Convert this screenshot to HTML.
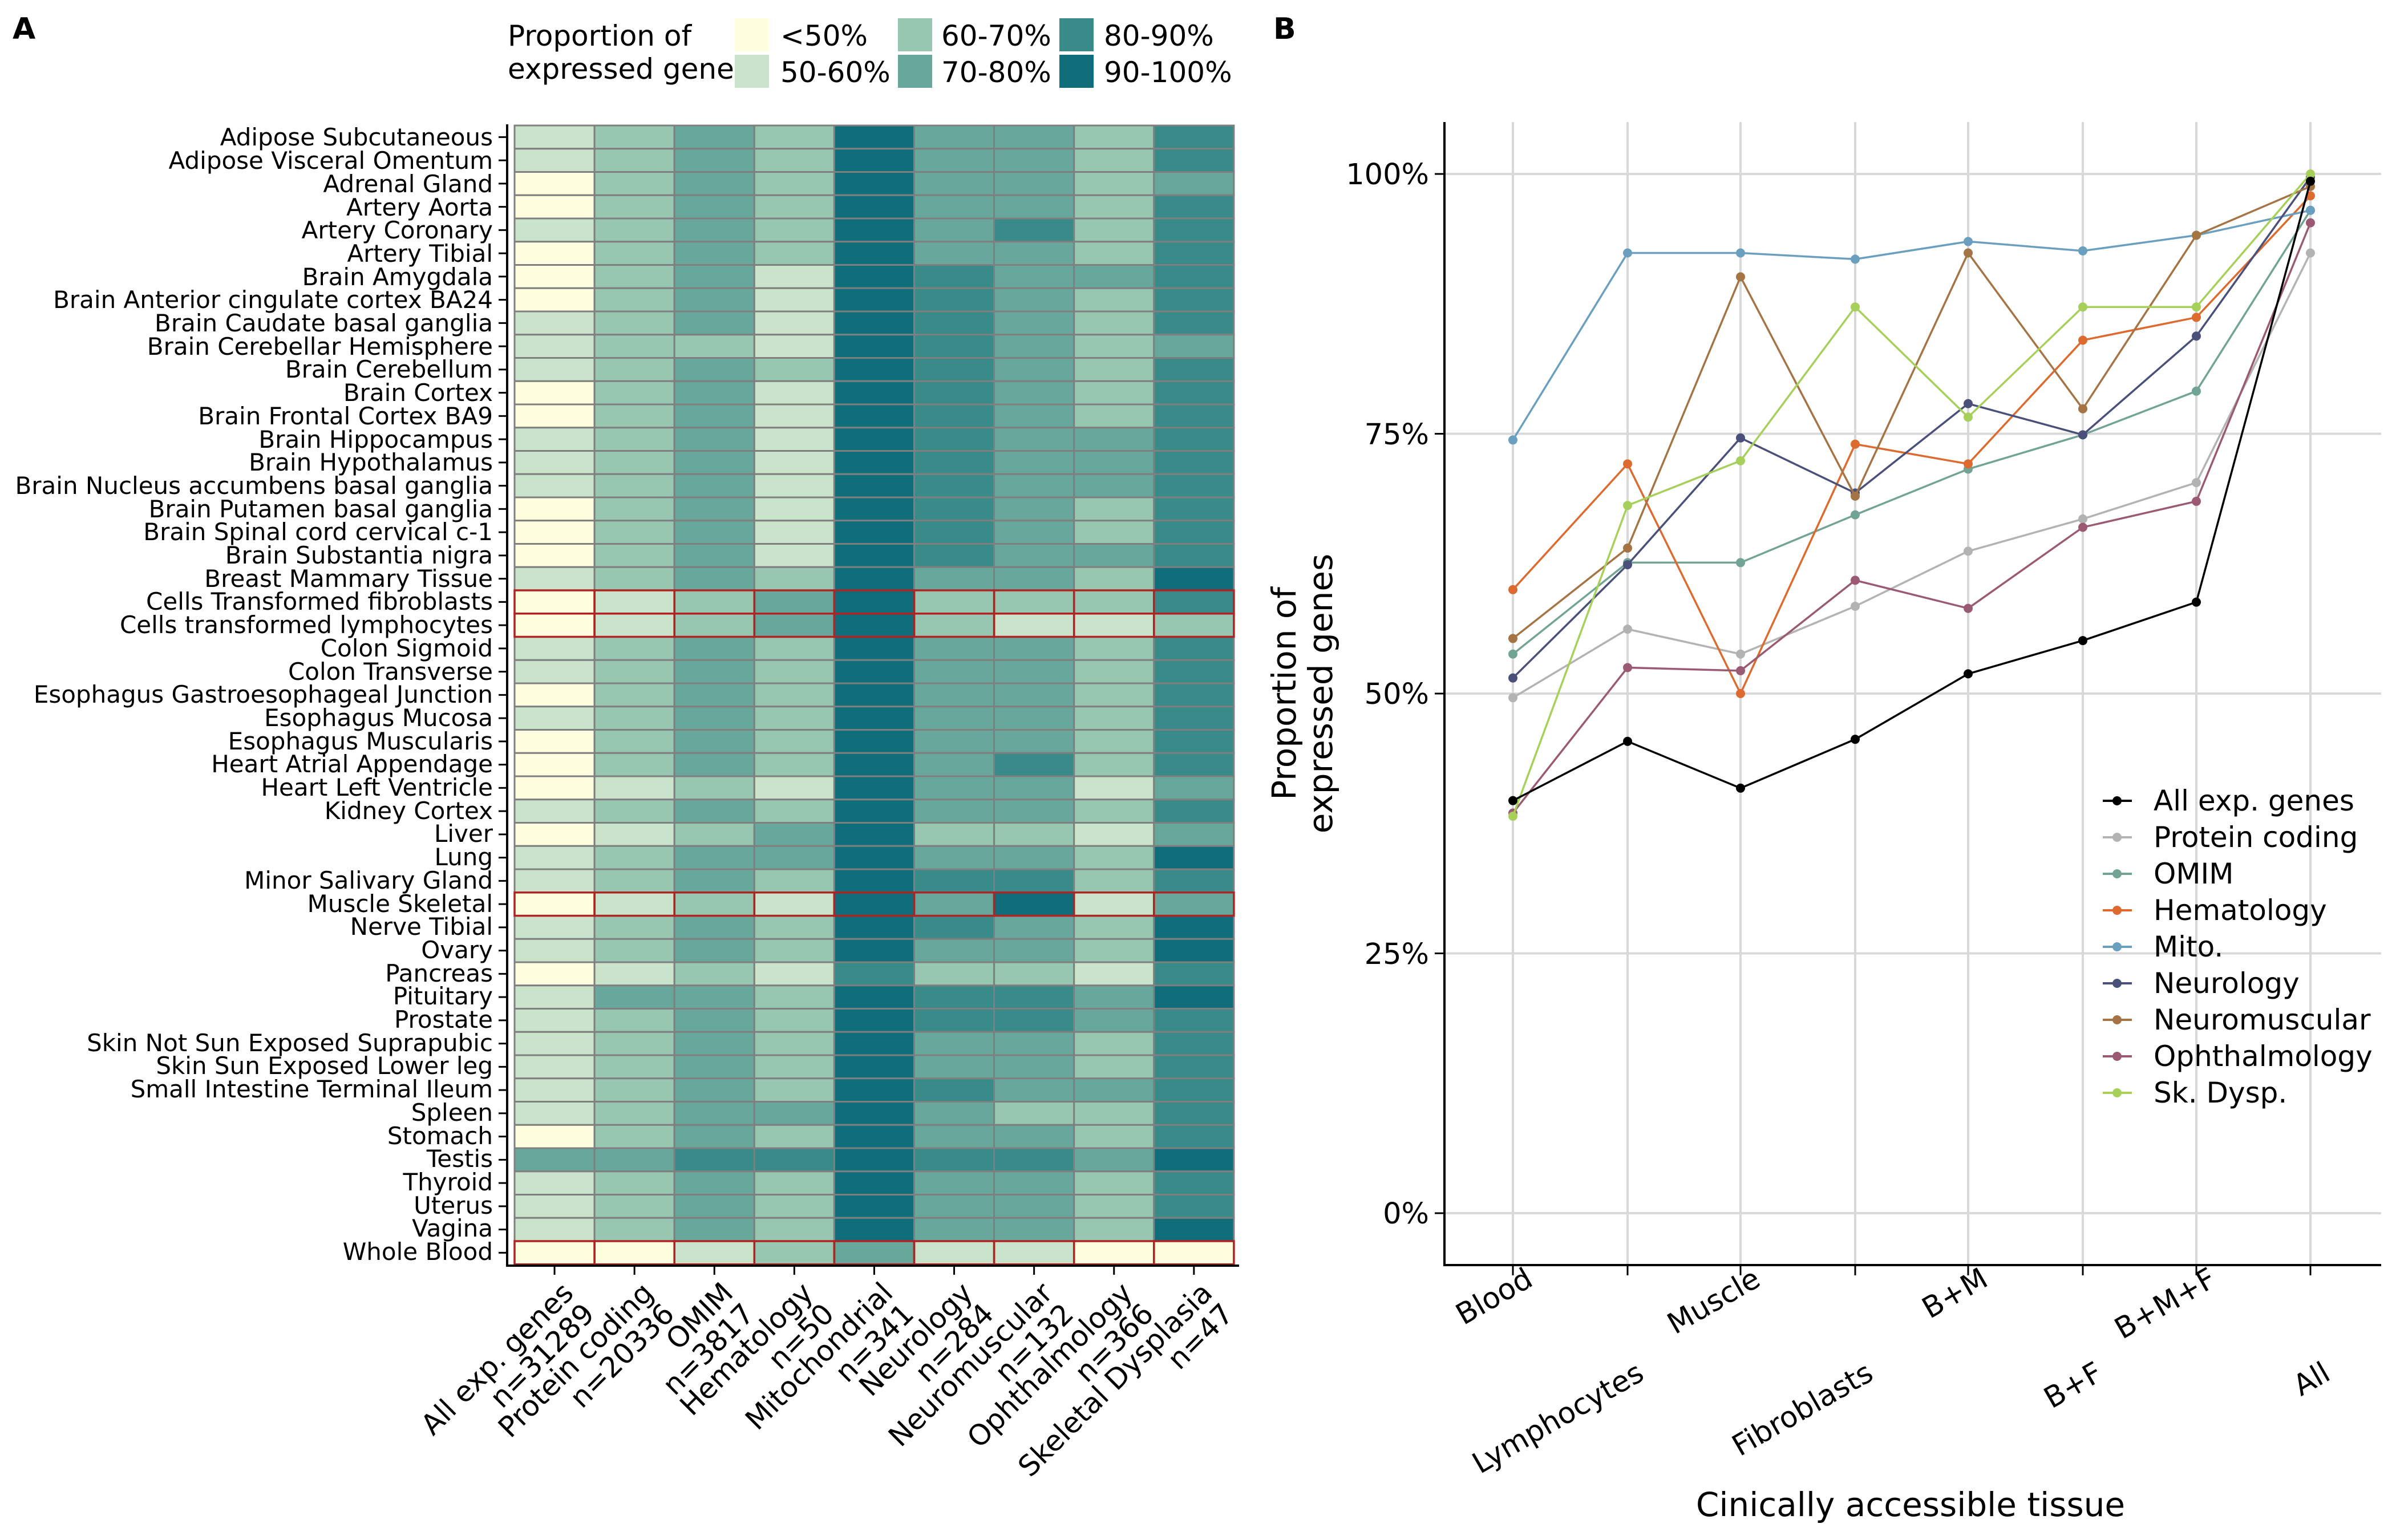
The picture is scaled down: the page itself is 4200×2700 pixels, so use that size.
<!DOCTYPE html>
<html><head><meta charset="utf-8"><style>
html,body{margin:0;padding:0;background:#fff}
svg{display:block}
text{font-family:"DejaVu Sans","Liberation Sans",sans-serif;fill:#000}
</style></head><body>
<svg id="s" xmlns="http://www.w3.org/2000/svg" width="4200" height="2700" viewBox="0 0 4200 2700">
<rect width="4200" height="2700" fill="#fff"/>
<text x="22" y="68" font-size="52" font-weight="bold">A</text>
<text x="2232" y="68" font-size="52" font-weight="bold">B</text>
<!-- legend A -->
<text x="890" y="80" font-size="50">Proportion of</text>
<text x="890" y="138" font-size="50">expressed gene</text>
<rect x="1288" y="32" width="60" height="58" fill="#FFFFE0"/>
<rect x="1288" y="96" width="60" height="58" fill="#C9E4CA"/>
<rect x="1574" y="32" width="60" height="58" fill="#97C7B1"/>
<rect x="1574" y="96" width="60" height="58" fill="#68A89C"/>
<rect x="1857" y="32" width="60" height="58" fill="#388B89"/>
<rect x="1857" y="96" width="60" height="58" fill="#0F6E7A"/>
<text x="1368" y="80" font-size="50">&lt;50%</text>
<text x="1368" y="144" font-size="50">50-60%</text>
<text x="1650" y="80" font-size="50">60-70%</text>
<text x="1650" y="144" font-size="50">70-80%</text>
<text x="1935" y="80" font-size="50">80-90%</text>
<text x="1935" y="144" font-size="50">90-100%</text>
<g id="heat"></g>
<line x1="889" y1="218" x2="889" y2="2221" stroke="#000" stroke-width="4"/>
<line x1="887" y1="2219" x2="2172" y2="2219" stroke="#000" stroke-width="4"/>
<g id="ticksA"></g>
<g font-size="42" text-anchor="end">
<text x="864" y="255">Adipose Subcutaneous</text>
<text x="864" y="296">Adipose Visceral Omentum</text>
<text x="864" y="337">Adrenal Gland</text>
<text x="864" y="378">Artery Aorta</text>
<text x="864" y="418">Artery Coronary</text>
<text x="864" y="459">Artery Tibial</text>
<text x="864" y="500">Brain Amygdala</text>
<text x="864" y="540">Brain Anterior cingulate cortex BA24</text>
<text x="864" y="581">Brain Caudate basal ganglia</text>
<text x="864" y="622">Brain Cerebellar Hemisphere</text>
<text x="864" y="662">Brain Cerebellum</text>
<text x="864" y="703">Brain Cortex</text>
<text x="864" y="744">Brain Frontal Cortex BA9</text>
<text x="864" y="785">Brain Hippocampus</text>
<text x="864" y="825">Brain Hypothalamus</text>
<text x="864" y="866">Brain Nucleus accumbens basal ganglia</text>
<text x="864" y="907">Brain Putamen basal ganglia</text>
<text x="864" y="947">Brain Spinal cord cervical c-1</text>
<text x="864" y="988">Brain Substantia nigra</text>
<text x="864" y="1029">Breast Mammary Tissue</text>
<text x="864" y="1069">Cells Transformed fibroblasts</text>
<text x="864" y="1110">Cells transformed lymphocytes</text>
<text x="864" y="1151">Colon Sigmoid</text>
<text x="864" y="1192">Colon Transverse</text>
<text x="864" y="1232">Esophagus Gastroesophageal Junction</text>
<text x="864" y="1273">Esophagus Mucosa</text>
<text x="864" y="1314">Esophagus Muscularis</text>
<text x="864" y="1354">Heart Atrial Appendage</text>
<text x="864" y="1395">Heart Left Ventricle</text>
<text x="864" y="1436">Kidney Cortex</text>
<text x="864" y="1476">Liver</text>
<text x="864" y="1517">Lung</text>
<text x="864" y="1558">Minor Salivary Gland</text>
<text x="864" y="1599">Muscle Skeletal</text>
<text x="864" y="1639">Nerve Tibial</text>
<text x="864" y="1680">Ovary</text>
<text x="864" y="1721">Pancreas</text>
<text x="864" y="1761">Pituitary</text>
<text x="864" y="1802">Prostate</text>
<text x="864" y="1843">Skin Not Sun Exposed Suprapubic</text>
<text x="864" y="1883">Skin Sun Exposed Lower leg</text>
<text x="864" y="1924">Small Intestine Terminal Ileum</text>
<text x="864" y="1965">Spleen</text>
<text x="864" y="2006">Stomach</text>
<text x="864" y="2046">Testis</text>
<text x="864" y="2087">Thyroid</text>
<text x="864" y="2128">Uterus</text>
<text x="864" y="2168">Vagina</text>
<text x="864" y="2209">Whole Blood</text>
</g>
<!-- x labels A (rotated) -->
<g font-size="50" text-anchor="end">
<g transform="translate(1015,2277) rotate(-45)"><text x="0" y="-10">All exp. genes</text><text x="0" y="42">n=31289</text></g>
<g transform="translate(1155,2277) rotate(-45)"><text x="0" y="-10">Protein coding</text><text x="0" y="42">n=20336</text></g>
<g transform="translate(1295,2277) rotate(-45)"><text x="0" y="-10">OMIM</text><text x="0" y="42">n=3817</text></g>
<g transform="translate(1435,2277) rotate(-45)"><text x="0" y="-10">Hematology</text><text x="0" y="42">n=50</text></g>
<g transform="translate(1575,2277) rotate(-45)"><text x="0" y="-10">Mitochondrial</text><text x="0" y="42">n=341</text></g>
<g transform="translate(1715,2277) rotate(-45)"><text x="0" y="-10">Neurology</text><text x="0" y="42">n=284</text></g>
<g transform="translate(1855,2277) rotate(-45)"><text x="0" y="-10">Neuromuscular</text><text x="0" y="42">n=132</text></g>
<g transform="translate(1995,2277) rotate(-45)"><text x="0" y="-10">Ophthalmology</text><text x="0" y="42">n=366</text></g>
<g transform="translate(2135,2277) rotate(-45)"><text x="0" y="-10">Skeletal Dysplasia</text><text x="0" y="42">n=47</text></g>
</g>
<!-- Panel B -->
<g id="grid"></g>
<line x1="2532" y1="214" x2="2532" y2="2220" stroke="#000" stroke-width="4"/>
<line x1="2530" y1="2218" x2="4174" y2="2218" stroke="#000" stroke-width="4"/>
<g font-size="51" text-anchor="end">
<text x="2505" y="323">100%</text>
<text x="2505" y="779">75%</text>
<text x="2505" y="1234">50%</text>
<text x="2505" y="1690">25%</text>
<text x="2505" y="2145">0%</text>
</g>
<g font-size="51" text-anchor="end">
<text transform="translate(2690,2252) rotate(-30)">Blood</text>
<text transform="translate(2885,2417) rotate(-30)">Lymphocytes</text>
<text transform="translate(3089,2252) rotate(-30)">Muscle</text>
<text transform="translate(3287,2417) rotate(-30)">Fibroblasts</text>
<text transform="translate(3488,2252) rotate(-30)">B+M</text>
<text transform="translate(3689,2417) rotate(-30)">B+F</text>
<text transform="translate(3888,2252) rotate(-30)">B+M+F</text>
<text transform="translate(4088,2417) rotate(-30)">All</text>
</g>
<text x="3349" y="2658" font-size="58" text-anchor="middle">Cinically accessible tissue</text>
<g transform="translate(2283,1216) rotate(-90)" font-size="58" text-anchor="middle">
<text x="0" y="-12">Proportion of</text><text x="0" y="52">expressed genes</text></g>
<g id="series"></g>
<g font-size="50">
<text x="3775" y="1421">All exp. genes</text>
<text x="3775" y="1485">Protein coding</text>
<text x="3775" y="1549">OMIM</text>
<text x="3775" y="1613">Hematology</text>
<text x="3775" y="1677">Mito.</text>
<text x="3775" y="1741">Neurology</text>
<text x="3775" y="1805">Neuromuscular</text>
<text x="3775" y="1869">Ophthalmology</text>
<text x="3775" y="1933">Sk. Dysp.</text>
</g>
<g id="leg"></g>
</svg>
<script>
(function(){
var NS="http://www.w3.org/2000/svg";
function el(p,n,a){var e=document.createElementNS(NS,n);for(var k in a)e.setAttribute(k,a[k]);p.appendChild(e);return e;}
var C=["#FFFFE0","#C9E4CA","#97C7B1","#68A89C","#388B89","#0F6E7A"];
var D=["123253324","123253324","023253323","023253324","123253424","023253324","023154334","023154324","123154324","122154323","123254324","023154324","023154324","123154334","123154334","123154334","023154324","023154324","023154334","123253325","012352224","012352112","123253324","123253324","023253324","123253324","023253324","023253424","012153313","123253324","012352213","123353325","123254424","012153513","123254325","123253325","012142214","133254435","123254434","123253324","123253324","123254334","123353224","023253324","334454435","123253324","123253324","123253325","001231100"];
var h=document.getElementById("heat"),x0=902,y0=220,cw=140.1,rh=40.75;
var red={20:1,21:1,33:1,48:1};
for(var i=0;i<D.length;i++)for(var j=0;j<9;j++){
el(h,"rect",{x:x0+j*cw,y:y0+i*rh,width:cw,height:rh,fill:C[+D[i][j]],stroke:"#7f7f7f","stroke-width":3});}
for(var i in red)for(var j=0;j<9;j++){
el(h,"rect",{x:x0+j*cw,y:y0+i*rh,width:cw,height:rh,fill:"none",stroke:"#B22222","stroke-width":3.5});}
var t=document.getElementById("ticksA");
for(var i=0;i<49;i++){var y=y0+(i+0.5)*rh;el(t,"line",{x1:874,y1:y,x2:889,y2:y,stroke:"#000","stroke-width":3});}
for(var j=0;j<9;j++){var x=x0+(j+0.5)*cw;el(t,"line",{x1:x,y1:2219,x2:x,y2:2235,stroke:"#000","stroke-width":3});}
var g=document.getElementById("grid");
var X=[2652,2853,3051,3252,3450,3651,3850,4050];
function Y(p){return 2127-p*18.22;}
[0,25,50,75,100].forEach(function(p){el(g,"line",{x1:2532,y1:Y(p),x2:4174,y2:Y(p),stroke:"#d9d9d9","stroke-width":4});
el(g,"line",{x1:2515,y1:Y(p),x2:2532,y2:Y(p),stroke:"#000","stroke-width":3});});
X.forEach(function(x){el(g,"line",{x1:x,y1:214,x2:x,y2:2218,stroke:"#d9d9d9","stroke-width":4});
el(g,"line",{x1:x,y1:2218,x2:x,y2:2236,stroke:"#000","stroke-width":3});});
var S=[
["#b3b3b3",[49.6,56.2,53.8,58.4,63.7,66.8,70.3,92.4]],
["#72a496",[53.8,62.6,62.6,67.2,71.6,74.9,79.1,96.5]],
["#dd6a2e",[60,72.1,50,74,72.1,84,86.2,97.9]],
["#6a9fbf",[74.4,92.4,92.4,91.8,93.5,92.6,94.1,96.5]],
["#4a5079",[51.5,62.4,74.6,69.3,77.9,74.9,84.4,99.7]],
["#a57444",[55.3,64,90.1,69,92.4,77.4,94.1,98.8]],
["#9a5a73",[38.5,52.5,52.2,60.9,58.2,66,68.5,95.3]],
["#a6d05a",[38.2,68.1,72.4,87.2,76.6,87.2,87.2,100]],
["#000000",[39.7,45.4,40.9,45.6,51.9,55.1,58.8,99.3]]];
var s=document.getElementById("series");
S.forEach(function(o){var pts=o[1].map(function(p,i){return X[i]+","+Y(p);}).join(" ");
el(s,"polyline",{points:pts,fill:"none",stroke:o[0],"stroke-width":3.5});
o[1].forEach(function(p,i){el(s,"circle",{cx:X[i],cy:Y(p),r:8,fill:o[0]});});});
var L=["#000000","#b3b3b3","#72a496","#dd6a2e","#6a9fbf","#4a5079","#a57444","#9a5a73","#a6d05a"];
var lg=document.getElementById("leg");
L.forEach(function(c,i){var y=1404+i*64;el(lg,"line",{x1:3686,y1:y,x2:3737,y2:y,stroke:c,"stroke-width":4});
el(lg,"circle",{cx:3711,cy:y,r:8,fill:c});});
})();
</script>
</body></html>
